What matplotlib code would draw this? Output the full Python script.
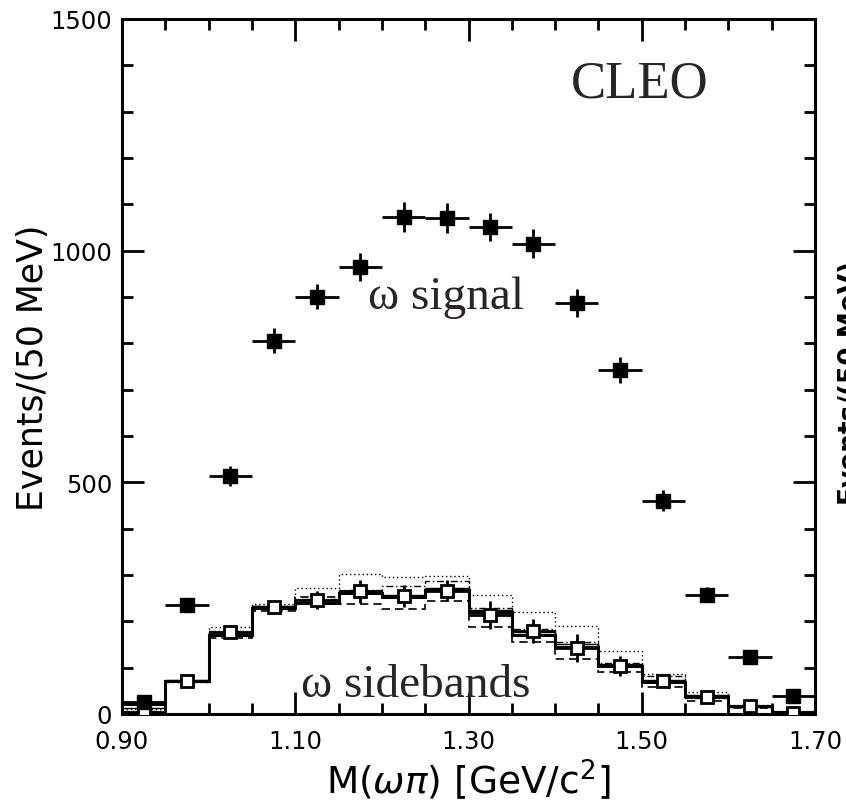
import numpy as np
import matplotlib.pyplot as plt
from matplotlib.ticker import FixedLocator, MultipleLocator, FormatStrFormatter

# bins de 50 MeV entre 0.90 y 1.70 GeV
bordes = np.round(np.arange(0.90, 1.7001, 0.05), 3)
centros = bordes[:-1] + 0.025
ticks_x = [0.90, 1.10, 1.30, 1.50, 1.70]

# omega signal (cuadrados llenos)
senal = [26, 235, 514, 806, 901, 965, 1073, 1071, 1051, 1015, 887, 742, 460, 257, 123, 39]
senal_err = [10, 16, 22, 26, 28, 30, 32, 32, 31, 31, 30, 28, 23, 16, 12, 8]

# omega sidebands (cuadrados abiertos)
lateral = [4, 71, 177, 231, 246, 265, 255, 266, 214, 179, 142, 104, 71, 37, 17, 2]
lateral_err = [4, 8, 11, 15, 20, 25, 24, 23, 30, 26, 30, 22, 13, 8, 5, 3]

# histogramas superpuestos
h_solido = [22, 71, 170, 228, 240, 262, 252, 268, 220, 171, 145, 104, 69, 39, 17, 4]
h_fino = [12, 74, 176, 234, 246, 266, 256, 272, 224, 176, 150, 108, 73, 41, 18, 5]
h_punteado = [10, 73, 188, 238, 272, 302, 296, 298, 257, 220, 190, 136, 86, 47, 20, 6]
h_rayado = [4, 68, 163, 222, 252, 237, 227, 244, 188, 155, 119, 90, 58, 28, 13, 2]
h_rayapunto = [6, 70, 180, 232, 248, 268, 276, 287, 228, 183, 155, 110, 82, 35, 15, 3]

fig = plt.figure(figsize=(8.46, 8.12), dpi=100)
ax = fig.add_axes([0.1442, 0.1195, 0.8192, 0.8559])


def escalon(vals, **kw):
    ax.stairs(vals, bordes, baseline=None, **kw)


escalon(h_punteado, color="black", lw=1.0, ls=(0, (1, 2)))
escalon(h_rayado, color="black", lw=1.2, ls=(0, (5, 3)))
escalon(h_rayapunto, color="black", lw=1.0, ls=(0, (5, 2, 1, 2)))
escalon(h_fino, color="black", lw=1.0)
escalon(h_solido, color="black", lw=2.2)

ax.errorbar(centros, lateral, xerr=0.025, yerr=lateral_err, fmt="s",
            ms=9, mfc="white", mec="black", mew=2.0, ecolor="black",
            elinewidth=2.0, capsize=0, zorder=5)
ax.errorbar(centros, senal, xerr=0.025, yerr=senal_err, fmt="s",
            ms=10, mfc="black", mec="black", ecolor="black",
            elinewidth=2.0, capsize=0, zorder=6)

ax.set_xlim(0.90, 1.70)
ax.set_ylim(0, 1500)
ax.xaxis.set_major_locator(FixedLocator(ticks_x))
ax.xaxis.set_minor_locator(MultipleLocator(0.05))
ax.xaxis.set_major_formatter(FormatStrFormatter("%.2f"))
ax.yaxis.set_major_locator(MultipleLocator(500))
ax.yaxis.set_minor_locator(MultipleLocator(100))
ax.tick_params(which="both", direction="in", top=True, right=True,
               width=2.0, labelsize=17.5)
ax.tick_params(axis="x", pad=11)
ax.tick_params(axis="y", pad=7)
ax.tick_params(which="major", length=16)
ax.tick_params(which="minor", length=8)
for s in ax.spines.values():
    s.set_linewidth(2.2)

for lab in ax.get_xticklabels() + ax.get_yticklabels():
    lab.set_family("DejaVu Sans")

ax.set_xlabel(r"M($\omega\pi$) [GeV/c$^2$]", fontsize=27,
              family="DejaVu Sans", labelpad=2)
ax.set_ylabel("Events/(50 MeV)", fontsize=25, family="DejaVu Sans",
              labelpad=0)

gris = "#2b2424"
ax.text(1.498, 1360, "CLEO", fontsize=38, family="Liberation Serif",
        color=gris, ha="center", va="center")
ax.text(1.274, 900, "ω signal", fontsize=34, family="Liberation Serif",
        color=gris, ha="center", va="center")
ax.text(1.239, 62, "ω sidebands", fontsize=34, family="Liberation Serif",
        color=gris, ha="center", va="center")

# rótulo cortado del panel vecino
fig.text(0.9905, 0.378, "Events/(50 MeV)", rotation=90, fontsize=19,
         family="DejaVu Sans", weight="bold", ha="left", va="bottom")

fig.savefig("out.png", dpi=100)
